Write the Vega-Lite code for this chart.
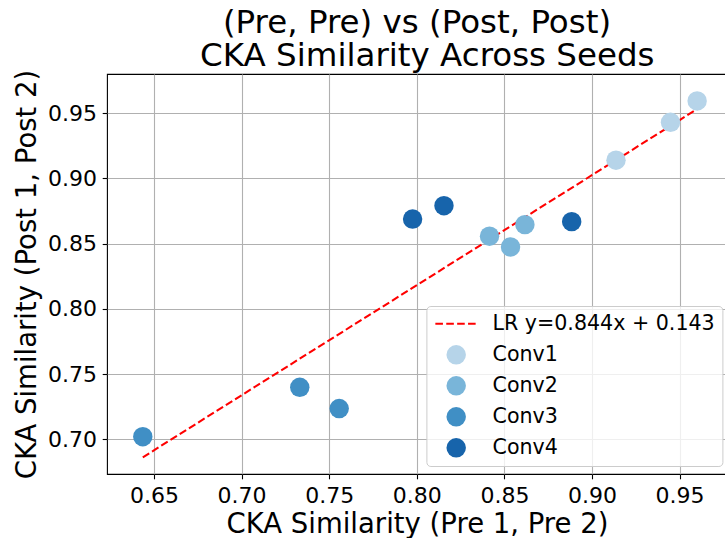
{
  "$schema": "https://vega.github.io/schema/vega-lite/v6.json",
  "width": 620,
  "height": 400,
  "padding": {"left": 13, "top": 6, "right": 0, "bottom": 0},
  "background": "white",
  "title": {
    "text": ["(Pre, Pre) vs (Post, Post)", "\u200b\u00a0\u00a0CKA Similarity Across Seeds"],
    "font": "DejaVu Sans",
    "fontSize": 32.5,
    "fontWeight": "normal",
    "color": "black",
    "lineHeight": 33,
    "offset": -3,
    "anchor": "middle"
  },
  "config": {
    "view": {"stroke": "black", "strokeWidth": 1.1},
    "axis": {
      "domain": false,
      "grid": true,
      "gridColor": "#b0b0b0",
      "gridWidth": 1.1,
      "tickColor": "black",
      "tickSize": 4.8,
      "tickWidth": 1.1,
      "labelFont": "DejaVu Sans",
      "labelFontSize": 22,
      "labelColor": "black",
      "titleFont": "DejaVu Sans",
      "titleFontSize": 27.5,
      "titleFontWeight": "normal",
      "titleColor": "black"
    },
    "legend": {
      "title": null,
      "orient": "none",
      "legendX": 319.4,
      "legendY": 232,
      "symbolType": "circle",
      "symbolSize": 378,
      "symbolOffset": 12,
      "labelOffset": 26,
      "labelFont": "DejaVu Sans",
      "labelFontSize": 20.6,
      "labelColor": "black",
      "labelLimit": 400,
      "padding": 7.5,
      "rowPadding": 10,
      "fillColor": "rgba(255,255,255,0.8)",
      "strokeColor": "#cccccc",
      "cornerRadius": 4
    }
  },
  "layer": [
    {
      "data": {"values": [
        {"series": "LR y=0.844x + 0.143", "x": 0.6436, "y": 0.6862},
        {"series": "LR y=0.844x + 0.143", "x": 0.9600, "y": 0.9532}
      ]},
      "mark": {"type": "line", "strokeDash": [7.6, 3.3], "strokeWidth": 2.06, "clip": true},
      "encoding": {
        "x": {"field": "x", "type": "quantitative"},
        "y": {"field": "y", "type": "quantitative"},
        "color": {
          "field": "series", "type": "nominal",
          "legend": {
            "encode": {
              "symbols": {
                "update": {
                  "shape": {"signal": "datum.value == 'LR y=0.844x + 0.143' ? 'stroke' : 'circle'"},
                  "size": {"signal": "datum.value == 'LR y=0.844x + 0.143' ? 1739 : 378"},
                  "stroke": {"signal": "datum.value == 'LR y=0.844x + 0.143' ? '#ff0000' : 'transparent'"},
                  "strokeWidth": {"signal": "datum.value == 'LR y=0.844x + 0.143' ? 2.06 : 0"},
                  "strokeDash": {"signal": "datum.value == 'LR y=0.844x + 0.143' ? [7.6, 3.3] : []"},
                  "fill": {"signal": "datum.value == 'LR y=0.844x + 0.143' ? 'transparent' : scale('color', datum.value)"},
                  "opacity": {"value": 1}
                }
              }
            }
          }
        }
      }
    },
    {
      "data": {"values": [
        {"series": "Conv1", "x": 0.9600, "y": 0.9594},
        {"series": "Conv1", "x": 0.9448, "y": 0.9431},
        {"series": "Conv1", "x": 0.9137, "y": 0.9140},
        {"series": "Conv2", "x": 0.8415, "y": 0.8557},
        {"series": "Conv2", "x": 0.8535, "y": 0.8475},
        {"series": "Conv2", "x": 0.8617, "y": 0.8646},
        {"series": "Conv3", "x": 0.6436, "y": 0.7020},
        {"series": "Conv3", "x": 0.7332, "y": 0.7399},
        {"series": "Conv3", "x": 0.7557, "y": 0.7236},
        {"series": "Conv4", "x": 0.7976, "y": 0.8689},
        {"series": "Conv4", "x": 0.8155, "y": 0.8791},
        {"series": "Conv4", "x": 0.8884, "y": 0.8669}
      ]},
      "mark": {"type": "circle", "size": 378, "opacity": 1},
      "encoding": {
        "x": {
          "field": "x", "type": "quantitative",
          "scale": {"domain": [0.62317, 0.97705], "nice": false, "zero": false},
          "axis": {"title": "CKA Similarity (Pre 1, Pre 2)", "values": [0.65, 0.70, 0.75, 0.80, 0.85, 0.90, 0.95], "format": ".2f", "labelPadding": 6.5, "titlePadding": 4}
        },
        "y": {
          "field": "y", "type": "quantitative",
          "scale": {"domain": [0.6734, 0.9801], "nice": false, "zero": false},
          "axis": {"title": "CKA Similarity (Post 1, Post 2)", "values": [0.70, 0.75, 0.80, 0.85, 0.90, 0.95], "format": ".2f", "labelPadding": 5.8, "titlePadding": 6}
        },
        "color": {
          "field": "series", "type": "nominal",
          "scale": {
            "domain": ["LR y=0.844x + 0.143", "Conv1", "Conv2", "Conv3", "Conv4"],
            "range": ["#ff0000", "#b6d4e9", "#79b5d9", "#408fc5", "#1764ab"]
          },
          "legend": {
            "encode": {
              "symbols": {
                "update": {
                  "shape": {"signal": "datum.value == 'LR y=0.844x + 0.143' ? 'stroke' : 'circle'"},
                  "size": {"signal": "datum.value == 'LR y=0.844x + 0.143' ? 1739 : 378"},
                  "stroke": {"signal": "datum.value == 'LR y=0.844x + 0.143' ? '#ff0000' : 'transparent'"},
                  "strokeWidth": {"signal": "datum.value == 'LR y=0.844x + 0.143' ? 2.06 : 0"},
                  "strokeDash": {"signal": "datum.value == 'LR y=0.844x + 0.143' ? [7.6, 3.3] : []"},
                  "fill": {"signal": "datum.value == 'LR y=0.844x + 0.143' ? 'transparent' : scale('color', datum.value)"},
                  "opacity": {"value": 1}
                }
              }
            }
          }
        }
      }
    }
  ]
}
